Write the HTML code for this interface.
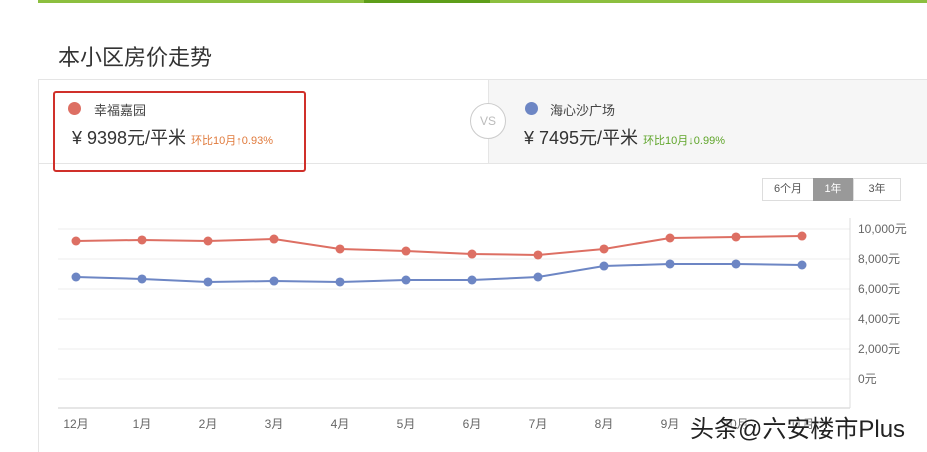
<!DOCTYPE html>
<html><head><meta charset="utf-8"><style>
body{margin:0;width:927px;height:451px;background:#fff;font-family:"Liberation Sans","Noto Sans CJK SC",sans-serif;overflow:hidden;position:relative}
.a{position:absolute}
</style></head><body>
<div class="a" style="left:38px;top:0;width:889px;height:3px;background:#8cbf3f"></div>
<div class="a" style="left:364px;top:0;width:126px;height:3px;background:#5e9e1a"></div>
<div class="a" style="left:58px;top:40px;font-size:22px;color:#333">本小区房价走势</div>
<div class="a" style="left:38px;top:79px;width:889px;height:372px;border-left:1px solid #e5e5e5;border-top:1px solid #e5e5e5"></div>
<div class="a" style="left:488px;top:80px;width:439px;height:83px;background:#f6f6f6;border-left:1px solid #e5e5e5;border-bottom:1px solid #e5e5e5"></div>
<div class="a" style="left:38px;top:163px;width:450px;height:1px;background:#e5e5e5"></div>
<div class="a" style="left:53px;top:91px;width:249px;height:77px;border:2px solid #d0302a;border-radius:3px"></div>
<div class="a" style="left:68px;top:102px;width:13px;height:13px;border-radius:50%;background:#dd6f63"></div>
<div class="a" style="left:94px;top:100px;font-size:13px;color:#444">幸福嘉园</div>
<div class="a" style="left:72px;top:124px;font-size:18px;color:#333">¥ 9398元/平米 <span style="font-size:11px;color:#e07a3c">环比10月↑0.93%</span></div>
<div class="a" style="left:470px;top:103px;width:34px;height:34px;border-radius:50%;border:1px solid #ccc;background:#fff;color:#bbb;font-size:12px;line-height:34px;text-align:center">VS</div>
<div class="a" style="left:525px;top:102px;width:13px;height:13px;border-radius:50%;background:#6d86c4"></div>
<div class="a" style="left:550px;top:100px;font-size:13px;color:#444">海心沙广场</div>
<div class="a" style="left:524px;top:124px;font-size:18px;color:#333">¥ 7495元/平米 <span style="font-size:11px;color:#5fa52a">环比10月↓0.99%</span></div>
<div class="a" style="left:762px;top:178px;width:50px;height:21px;border:1px solid #ddd;font-size:11px;line-height:21px;text-align:center;color:#555">6个月</div>
<div class="a" style="left:813px;top:178px;width:40px;height:23px;background:#999;font-size:11px;line-height:23px;text-align:center;color:#fff">1年</div>
<div class="a" style="left:853px;top:178px;width:46px;height:21px;border:1px solid #ddd;font-size:11px;line-height:21px;text-align:center;color:#555">3年</div>
<svg class="a" style="left:0;top:0" width="927" height="451" id="chart"></svg>
<div class="a" style="left:690px;top:409px;font-size:24px;color:#222;text-shadow:0 0 2px #fff,0 0 2px #fff">头条@六安楼市Plus</div>
<script>
const months=["12月","1月","2月","3月","4月","5月","6月","7月","8月","9月","10月","11月"];
const seriesA=[9200,9270,9200,9330,8670,8530,8330,8270,8670,9400,9470,9530];
const seriesB=[6800,6670,6470,6530,6470,6600,6600,6800,7530,7670,7670,7600];
const ticks=[0,2000,4000,6000,8000,10000];
const tickLabels=["0元","2,000元","4,000元","6,000元","8,000元","10,000元"];
const svg=document.getElementById('chart');const NS='http://www.w3.org/2000/svg';
const x=i=>76+i*66, y=v=>379-v/2000*30;
function mk(t,a){const e=document.createElementNS(NS,t);for(const k in a)e.setAttribute(k,a[k]);svg.appendChild(e);return e;}
ticks.forEach((t,i)=>{const l=mk('line',{x1:58,x2:850,y1:y(t),y2:y(t),stroke:'#ececec'});


const tx=mk('text',{x:858,y:y(t)+4,'font-size':12,fill:'#666'});tx.textContent=tickLabels[i];

});
const ax=mk('line',{x1:58,x2:850,y1:408,y2:408,stroke:'#ccc'});


const ay=mk('line',{x1:850,x2:850,y1:218,y2:408,stroke:'#ddd'});


months.forEach((m,i)=>{const t=mk('text',{x:x(i),y:428,'font-size':12,fill:'#666','text-anchor':'middle'});t.textContent=m;

});
[[seriesA,'#dd6f63','a'],[seriesB,'#6d86c4','b']].forEach(([d,c,n])=>{
const p=mk('polyline',{points:d.map((v,i)=>x(i)+','+y(v)).join(' '),fill:'none',stroke:c,'stroke-width':2});


d.forEach((v,i)=>{const ci=mk('circle',{cx:x(i),cy:y(v),r:4.5,fill:c});

});});
</script>
</body></html>
